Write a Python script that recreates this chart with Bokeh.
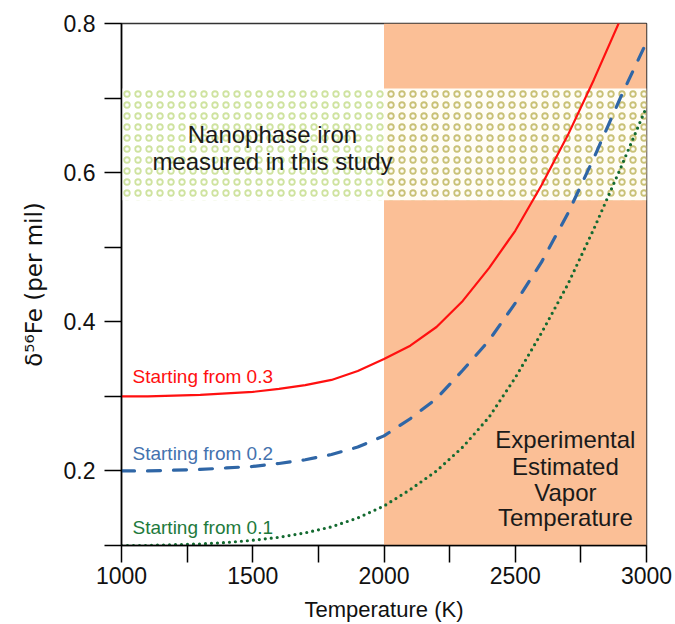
from bokeh.plotting import figure
from bokeh.models import FixedTicker, Range1d
from bokeh.core.properties import value
from bokeh.embed import file_html
from bokeh.resources import INLINE

# ---- data ----
temperature = [1000, 1100, 1200, 1300, 1400, 1500, 1600, 1700, 1800, 1900, 2000,
               2100, 2200, 2300, 2400, 2500, 2600, 2700, 2800, 2900, 3000]
start_03 = [0.300, 0.300, 0.301, 0.302, 0.304, 0.306, 0.310, 0.315, 0.322, 0.334, 0.350,
            0.368, 0.393, 0.428, 0.472, 0.522, 0.583, 0.650, 0.725, 0.805, 0.885]
start_02 = [0.200, 0.200, 0.201, 0.202, 0.204, 0.206, 0.210, 0.215, 0.222, 0.232, 0.247,
            0.270, 0.297, 0.335, 0.375, 0.425, 0.480, 0.545, 0.620, 0.700, 0.775]
start_01 = [0.100, 0.100, 0.101, 0.102, 0.104, 0.107, 0.111, 0.117, 0.125, 0.137, 0.153,
            0.175, 0.200, 0.232, 0.272, 0.325, 0.385, 0.450, 0.525, 0.605, 0.688]

vapor_range = [2000, 3000]          # experimental estimated vapor temperature
nanophase_range = [0.563, 0.713]    # nanophase iron measured in this study

x_major = [1000, 1500, 2000, 2500, 3000]
x_minor = [1250, 1750, 2250, 2750]
y_major = [0.2, 0.4, 0.6, 0.8]
y_minor = [0.1, 0.3, 0.5, 0.7]

FONT = "Liberation Sans"

p = figure(width=675, height=624, output_backend="svg", toolbar_location=None,
           x_range=Range1d(1000, 3000), y_range=Range1d(0.1, 0.8),
           min_border_left=121, min_border_right=29, min_border_top=23,
           min_border_bottom=77)
p.xgrid.visible = False
p.ygrid.visible = False
p.outline_line_color = "#333333"
p.outline_line_width = 1.5
p.background_fill_color = "white"
p.border_fill_color = "white"

# shaded vapor temperature region
p.quad(left=[vapor_range[0]], right=[vapor_range[1]], bottom=[0.1], top=[0.8],
       fill_color="#FBBF96", line_color=None)

# nanophase band (two parts: over white and over orange)
p.quad(left=[1000], right=[vapor_range[0]], bottom=[nanophase_range[0]], top=[nanophase_range[1]],
       fill_color="white", line_color=None, hatch_pattern="ring", hatch_scale=11,
       hatch_weight=1.8, hatch_color="#CFE3A0")
p.quad(left=[vapor_range[0]], right=[vapor_range[1]], bottom=[nanophase_range[0]], top=[nanophase_range[1]],
       fill_color="#FFFDF6", line_color=None, hatch_pattern="ring", hatch_scale=11,
       hatch_weight=1.8, hatch_color="#C9C177")

# curves
p.line(temperature, start_03, line_color="#FF1010", line_width=2.2)
p.line(temperature, start_02, line_color="#2F66A6", line_width=3.2, line_dash="13 13",
       line_cap="round")
p.line(temperature, start_01, line_color="#136A30", line_width=3.2, line_dash="0 6",
       line_cap="round")

# annotations
p.text(x=[1575, 1575], y=[0.651, 0.615], text=["Nanophase iron", "measured in this study"],
       text_font=value(FONT), text_font_size=value("24px"), text_color="#1a1a1a",
       text_align="center", text_baseline="middle")
p.text(x=[2691, 2691, 2691, 2691], y=[0.2417, 0.2062, 0.1707, 0.1373],
       text=["Experimental", "Estimated", "Vapor", "Temperature"],
       text_font=value(FONT), text_font_size=value("24px"), text_color="#1a1a1a",
       text_align="center", text_baseline="middle")
p.text(x=[1042], y=[0.3267], text=["Starting from 0.3"], text_font=value(FONT),
       text_font_size=value("19px"), text_color="#FF1010", text_baseline="middle")
p.text(x=[1042], y=[0.224], text=["Starting from 0.2"], text_font=value(FONT),
       text_font_size=value("19px"), text_color="#4472AE", text_baseline="middle")
p.text(x=[1042], y=[0.124], text=["Starting from 0.1"], text_font=value(FONT),
       text_font_size=value("19px"), text_color="#1E7A3C", text_baseline="middle")

# axes
p.xaxis.ticker = FixedTicker(ticks=x_major, minor_ticks=x_minor)
p.yaxis.ticker = FixedTicker(ticks=y_major, minor_ticks=y_minor)
p.xaxis.axis_label = "Temperature (K)"
p.yaxis.axis_label = "δ⁵⁶Fe (per mil)"
for ax in (p.xaxis, p.yaxis):
    ax.axis_line_color = "black"
    ax.axis_line_width = 1.5
    ax.major_tick_line_color = "black"
    ax.major_tick_line_width = 1.5
    ax.minor_tick_line_color = "black"
    ax.minor_tick_line_width = 1.5
    ax.major_tick_in = 0
    ax.minor_tick_in = 0
    ax.major_tick_out = 17
    ax.minor_tick_out = 17
    ax.major_label_text_font = FONT
    ax.major_label_text_font_size = "23px"
    ax.major_label_text_color = "#111111"
    ax.axis_label_text_font = FONT
    ax.axis_label_text_font_size = "22px"
    ax.axis_label_text_font_style = "normal"
    ax.axis_label_text_color = "#111111"
p.yaxis.axis_label_text_font = "DejaVu Sans"
p.yaxis.axis_label_text_font_size = "23px"
p.xaxis.major_label_standoff = 4
p.xaxis.axis_label_standoff = 10
p.yaxis.major_label_standoff = 9
p.yaxis.axis_label_standoff = 14

open("out.html", "w").write(file_html(p, INLINE))
